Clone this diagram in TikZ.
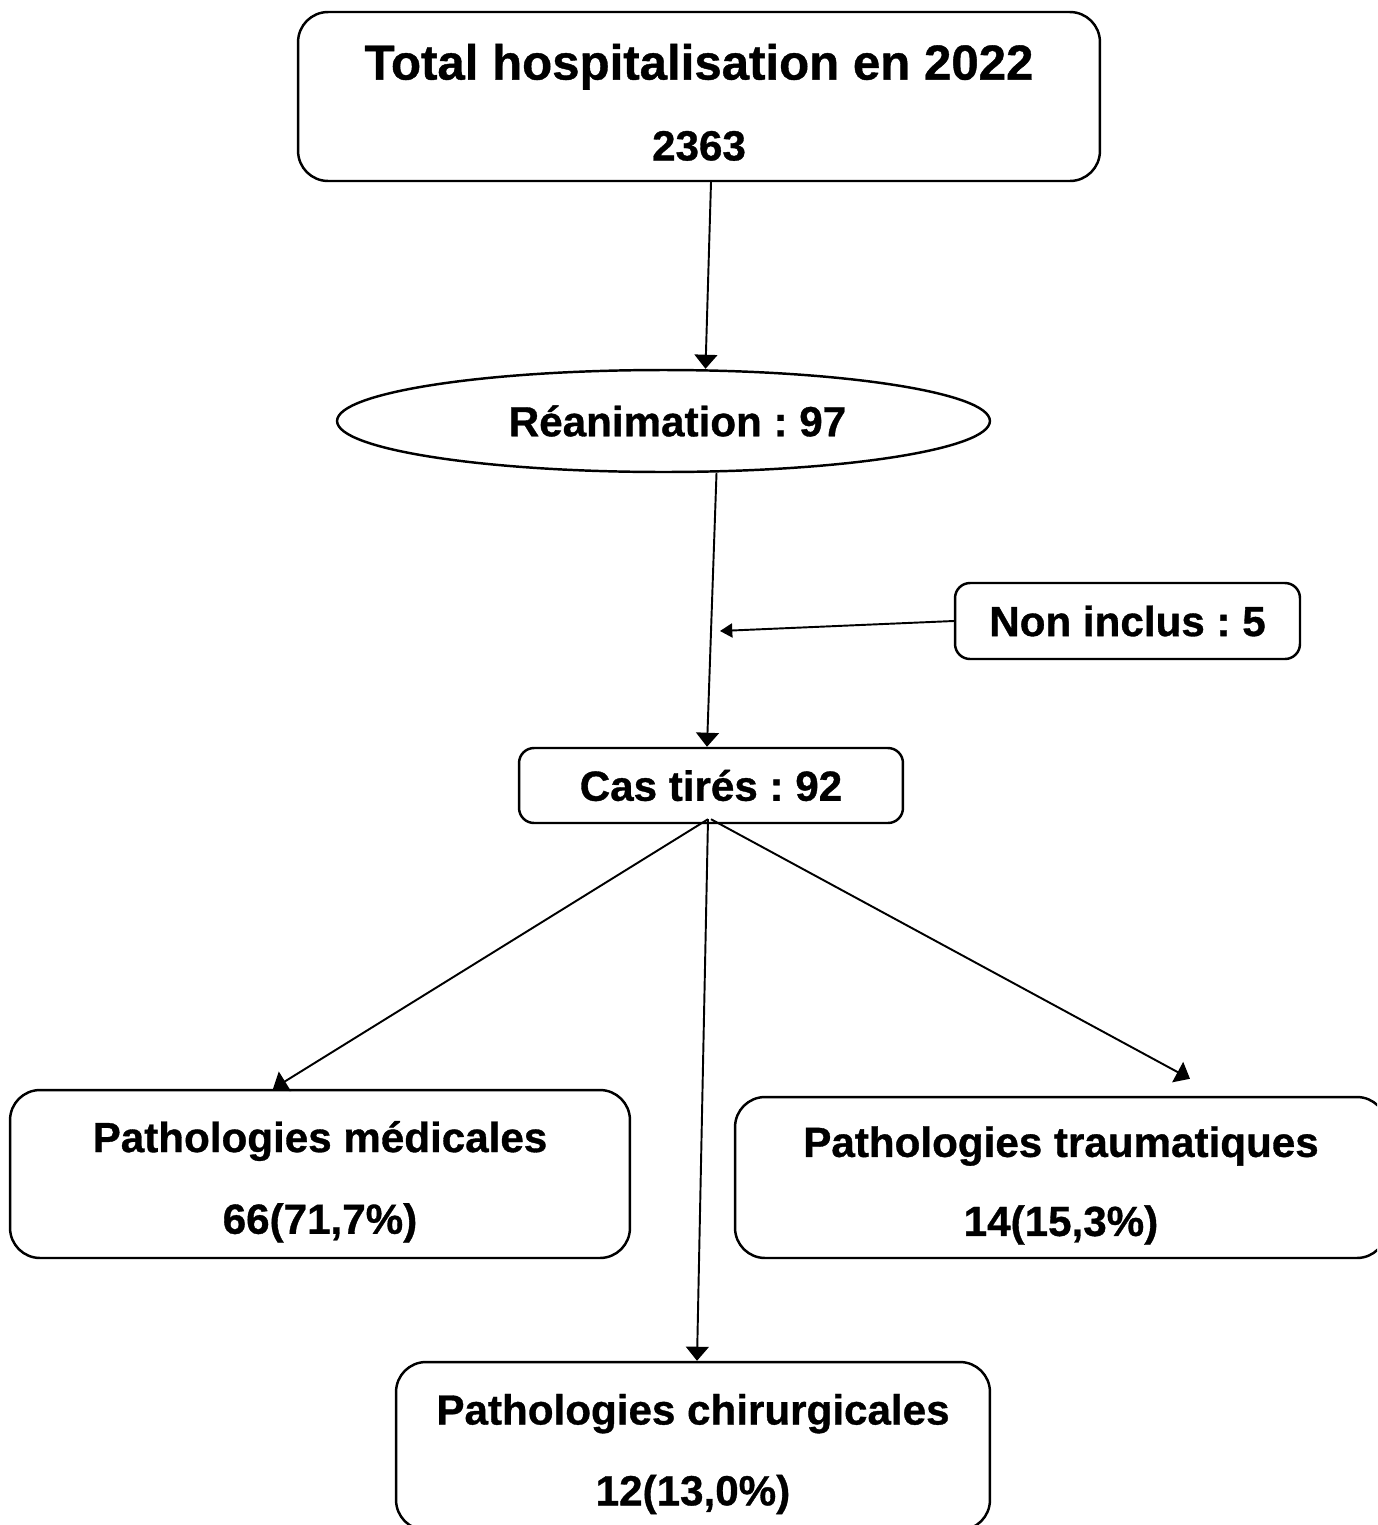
\documentclass[tikz,border=0pt]{standalone}
\usepackage{fontspec}
\setmainfont{Liberation Sans}[BoldFeatures={FakeBold=0.8}]
\usetikzlibrary{shapes.geometric,arrows.meta,calc}
\frenchspacing
\begin{document}
\begin{tikzpicture}[x=0.02cm, y=-0.02cm,
  every node/.append style={font=\bfseries\fontsize{24}{29}\selectfont},
  box/.style={draw, line width=1.4pt, rounded corners=0.6cm, align=center, inner sep=0pt},
  smallbox/.style={draw, line width=1.4pt, rounded corners=0.3cm, inner sep=0pt},
  arr/.style={line width=1.1pt, -{Triangle[width=13pt,length=8pt]}}]
  \clip (0,0) rectangle (1377,1525);
  \node[box, minimum width=16.04cm, minimum height=3.38cm] (total) at (699,96.5)
    {\rule{0pt}{27pt}{\fontsize{28}{34}\selectfont Total hospitalisation en 2022}\\[17pt] 2363};
  \node[draw, ellipse, line width=1.4pt, minimum width=13.06cm, minimum height=2.04cm, inner sep=0pt] (rea) at (663.5,421)
    {\hspace*{0.56cm}Réanimation : 97};
  \node[smallbox, minimum width=6.9cm, minimum height=1.52cm] (nonincl) at (1127.5,621) {Non inclus : 5};
  \node[smallbox, minimum width=7.68cm, minimum height=1.5cm] (cas) at (711,785.5) {Cas tirés : 92};
  \node[box, minimum width=12.4cm, minimum height=3.36cm] (med) at (320,1174)
    {\rule{0pt}{26.5pt}Pathologies médicales\\[17.5pt] 66(71,7\%)};
  \node[box, minimum width=13.04cm, minimum height=3.22cm] (trau) at (1061,1177.5)
    {\rule{0pt}{26.5pt}Pathologies traumatiques\\[16pt] 14(15,3\%)};
  \node[box, minimum width=11.88cm, minimum height=3.36cm] (chir) at (693,1446)
    {\rule{0pt}{26.5pt}Pathologies chirurgicales\\[17pt] 12(13,0\%)};
  \coordinate (join) at (720,631);
  \coordinate (fork) at ($(cas.south)+(-3,-5)$);
  \draw[arr] ($(total.south)+(12,0)$) -- ($(rea.north)+(42,0)$);
  \draw[arr] ($(rea.south)+(53,0)$) -- ($(cas.north)+(-4,0)$);
  \draw[arr, -{Triangle[width=8pt,length=7pt]}] (nonincl.west) -- (join);
  \draw[arr] (fork) -- ($(med.north)+(-47,0)$);
  \draw[arr] (fork) -- ($(chir.north)+(4,0)$);
  \draw[arr] ($(fork)+(3,0)$) -- ($(trau.north)+(129,-17)$);
\end{tikzpicture}
\end{document}
